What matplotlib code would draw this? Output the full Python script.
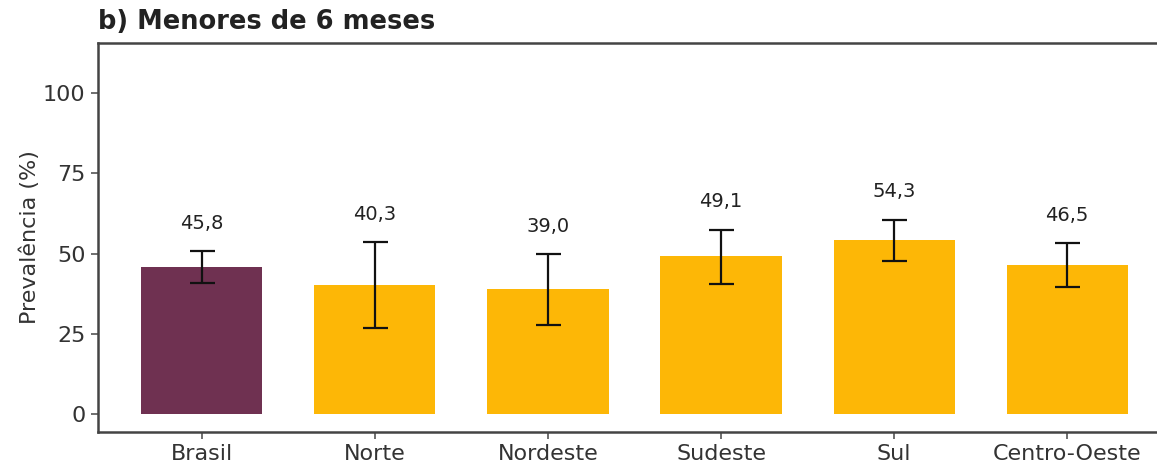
import matplotlib
matplotlib.use("Agg")
import matplotlib.pyplot as plt

categories = ["Brasil", "Norte", "Nordeste", "Sudeste", "Sul", "Centro-Oeste"]
values = [45.8, 40.3, 39.0, 49.1, 54.3, 46.5]
ci_low = [40.8, 26.8, 27.7, 40.4, 47.6, 39.6]
ci_high = [50.8, 53.6, 49.8, 57.4, 60.6, 53.2]
value_labels = ["45,8", "40,3", "39,0", "49,1", "54,3", "46,5"]
colors = ["#6F3151", "#FDB706", "#FDB706", "#FDB706", "#FDB706", "#FDB706"]
yticks = [0, 25, 50, 75, 100]

plt.rcParams['font.family'] = ['DejaVu Sans']

fig = plt.figure(figsize=(11.57, 4.63), dpi=100)
ax = fig.add_axes([98/1157, 31/463, 1073/1157, 389/463])

x = list(range(len(categories)))
ax.bar(x, values, width=0.7, color=colors, zorder=2)
yerr = [[v - l for v, l in zip(values, ci_low)], [h - v for v, h in zip(values, ci_high)]]
ax.errorbar(x, values, yerr=yerr, fmt='none', ecolor='#111111', elinewidth=1.6,
            capsize=9, capthick=1.6, zorder=3)
for xi, h, lab in zip(x, ci_high, value_labels):
    ax.text(xi, h + 8.7, lab, ha='center', va='center', fontsize=14, color='#222222')

ax.set_xlim(-0.6, 5.6)
ax.set_ylim(-5.6, 115.6)
ax.set_xticks(x)
ax.set_xticklabels(categories, fontsize=16, color='#333333')
ax.set_yticks(yticks)
ax.set_yticklabels([str(t) for t in yticks], fontsize=16, color='#333333')
ax.set_ylabel("Prevalência (%)", fontsize=16, color='#333333', labelpad=2)
ax.tick_params(axis='both', length=5, width=1.2, color='#555555', pad=4)
for s in ax.spines.values():
    s.set_linewidth(1.8)
    s.set_color('#444444')

fig.text(98/1157, 1 - 22/463, "b) Menores de 6 meses", fontsize=18.5, fontweight='bold',
         color='#222222', ha='left', va='center')

fig.savefig("out.png", dpi=100)
